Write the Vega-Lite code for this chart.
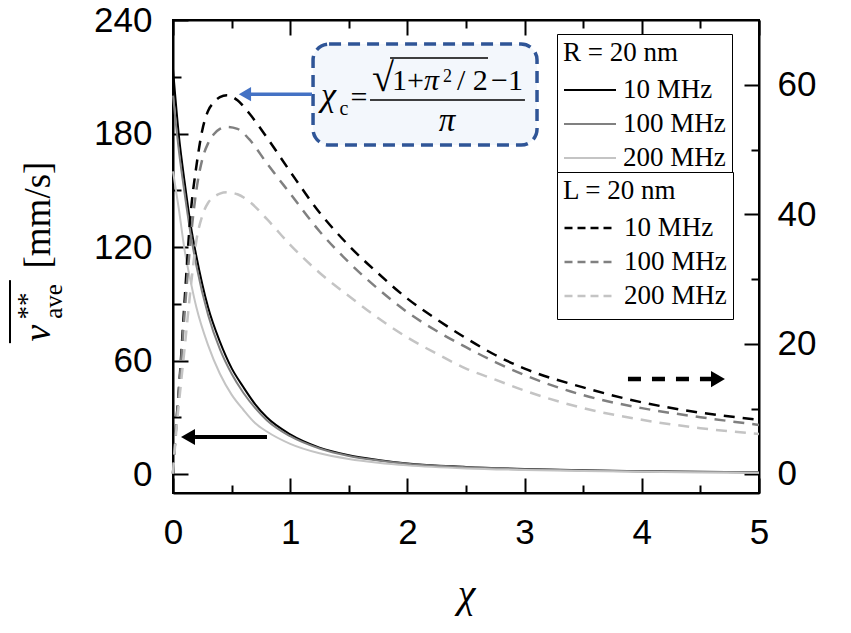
{
  "$schema": "https://vega.github.io/schema/vega-lite/v6.json",
  "width": 586,
  "height": 473,
  "autosize": {"type": "none"},
  "padding": {"left": 173, "top": 20, "right": 92, "bottom": 140},
  "background": "white",
  "datasets": {
    "solid": [
      {"freq": "10 MHz", "chi": 0, "v": 214}, {"freq": "10 MHz", "chi": 0.05, "v": 179}, {"freq": "10 MHz", "chi": 0.1, "v": 154},
      {"freq": "10 MHz", "chi": 0.15, "v": 132}, {"freq": "10 MHz", "chi": 0.2, "v": 115}, {"freq": "10 MHz", "chi": 0.3, "v": 88},
      {"freq": "10 MHz", "chi": 0.4, "v": 70}, {"freq": "10 MHz", "chi": 0.5, "v": 56}, {"freq": "10 MHz", "chi": 0.6, "v": 46},
      {"freq": "10 MHz", "chi": 0.7, "v": 37}, {"freq": "10 MHz", "chi": 0.8, "v": 30}, {"freq": "10 MHz", "chi": 1.0, "v": 21},
      {"freq": "10 MHz", "chi": 1.25, "v": 14}, {"freq": "10 MHz", "chi": 1.5, "v": 10}, {"freq": "10 MHz", "chi": 1.75, "v": 7.5},
      {"freq": "10 MHz", "chi": 2.0, "v": 5.6}, {"freq": "10 MHz", "chi": 2.5, "v": 3.8}, {"freq": "10 MHz", "chi": 3.0, "v": 2.7},
      {"freq": "10 MHz", "chi": 3.5, "v": 2.0}, {"freq": "10 MHz", "chi": 4.0, "v": 1.5}, {"freq": "10 MHz", "chi": 4.5, "v": 1.2},
      {"freq": "10 MHz", "chi": 5.0, "v": 1.0},
      {"freq": "100 MHz", "chi": 0, "v": 200}, {"freq": "100 MHz", "chi": 0.05, "v": 171}, {"freq": "100 MHz", "chi": 0.1, "v": 148},
      {"freq": "100 MHz", "chi": 0.15, "v": 127}, {"freq": "100 MHz", "chi": 0.2, "v": 110}, {"freq": "100 MHz", "chi": 0.3, "v": 84},
      {"freq": "100 MHz", "chi": 0.4, "v": 66}, {"freq": "100 MHz", "chi": 0.5, "v": 53}, {"freq": "100 MHz", "chi": 0.6, "v": 43},
      {"freq": "100 MHz", "chi": 0.7, "v": 35}, {"freq": "100 MHz", "chi": 0.8, "v": 28.5}, {"freq": "100 MHz", "chi": 1.0, "v": 20},
      {"freq": "100 MHz", "chi": 1.25, "v": 13.5}, {"freq": "100 MHz", "chi": 1.5, "v": 9.6}, {"freq": "100 MHz", "chi": 1.75, "v": 7.2},
      {"freq": "100 MHz", "chi": 2.0, "v": 5.4}, {"freq": "100 MHz", "chi": 2.5, "v": 3.6}, {"freq": "100 MHz", "chi": 3.0, "v": 2.6},
      {"freq": "100 MHz", "chi": 3.5, "v": 1.9}, {"freq": "100 MHz", "chi": 4.0, "v": 1.4}, {"freq": "100 MHz", "chi": 4.5, "v": 1.1},
      {"freq": "100 MHz", "chi": 5.0, "v": 0.9},
      {"freq": "200 MHz", "chi": 0, "v": 160}, {"freq": "200 MHz", "chi": 0.05, "v": 140}, {"freq": "200 MHz", "chi": 0.1, "v": 118},
      {"freq": "200 MHz", "chi": 0.15, "v": 102}, {"freq": "200 MHz", "chi": 0.2, "v": 88}, {"freq": "200 MHz", "chi": 0.3, "v": 68},
      {"freq": "200 MHz", "chi": 0.4, "v": 53}, {"freq": "200 MHz", "chi": 0.5, "v": 42}, {"freq": "200 MHz", "chi": 0.6, "v": 34},
      {"freq": "200 MHz", "chi": 0.7, "v": 27}, {"freq": "200 MHz", "chi": 0.8, "v": 22.5}, {"freq": "200 MHz", "chi": 1.0, "v": 16},
      {"freq": "200 MHz", "chi": 1.25, "v": 11}, {"freq": "200 MHz", "chi": 1.5, "v": 8}, {"freq": "200 MHz", "chi": 1.75, "v": 6},
      {"freq": "200 MHz", "chi": 2.0, "v": 4.6}, {"freq": "200 MHz", "chi": 2.5, "v": 3.0}, {"freq": "200 MHz", "chi": 3.0, "v": 2.2},
      {"freq": "200 MHz", "chi": 3.5, "v": 1.6}, {"freq": "200 MHz", "chi": 4.0, "v": 1.2}, {"freq": "200 MHz", "chi": 4.5, "v": 0.9},
      {"freq": "200 MHz", "chi": 5.0, "v": 0.7}
    ],
    "dashed": [
      {"freq": "10 MHz", "chi": 0, "v": 0}, {"freq": "10 MHz", "chi": 0.03, "v": 8.2}, {"freq": "10 MHz", "chi": 0.06, "v": 15.5},
      {"freq": "10 MHz", "chi": 0.1, "v": 27}, {"freq": "10 MHz", "chi": 0.15, "v": 40}, {"freq": "10 MHz", "chi": 0.2, "v": 47.5},
      {"freq": "10 MHz", "chi": 0.25, "v": 53}, {"freq": "10 MHz", "chi": 0.3, "v": 56}, {"freq": "10 MHz", "chi": 0.35, "v": 57.3},
      {"freq": "10 MHz", "chi": 0.4, "v": 58.1}, {"freq": "10 MHz", "chi": 0.46, "v": 58.4}, {"freq": "10 MHz", "chi": 0.55, "v": 57.6},
      {"freq": "10 MHz", "chi": 0.65, "v": 55.6}, {"freq": "10 MHz", "chi": 0.8, "v": 51.9}, {"freq": "10 MHz", "chi": 1.0, "v": 46.6},
      {"freq": "10 MHz", "chi": 1.25, "v": 40.3}, {"freq": "10 MHz", "chi": 1.5, "v": 35.2}, {"freq": "10 MHz", "chi": 1.75, "v": 30.9},
      {"freq": "10 MHz", "chi": 2.0, "v": 27.0}, {"freq": "10 MHz", "chi": 2.25, "v": 23.8}, {"freq": "10 MHz", "chi": 2.5, "v": 20.9},
      {"freq": "10 MHz", "chi": 2.75, "v": 18.3}, {"freq": "10 MHz", "chi": 3.0, "v": 16.2}, {"freq": "10 MHz", "chi": 3.5, "v": 13.3},
      {"freq": "10 MHz", "chi": 4.0, "v": 11.0}, {"freq": "10 MHz", "chi": 4.5, "v": 9.4}, {"freq": "10 MHz", "chi": 5.0, "v": 8.3},
      {"freq": "100 MHz", "chi": 0, "v": 0}, {"freq": "100 MHz", "chi": 0.03, "v": 8.0}, {"freq": "100 MHz", "chi": 0.06, "v": 15.0},
      {"freq": "100 MHz", "chi": 0.1, "v": 25}, {"freq": "100 MHz", "chi": 0.15, "v": 36}, {"freq": "100 MHz", "chi": 0.2, "v": 43.8},
      {"freq": "100 MHz", "chi": 0.25, "v": 48.5}, {"freq": "100 MHz", "chi": 0.3, "v": 51}, {"freq": "100 MHz", "chi": 0.35, "v": 52.4},
      {"freq": "100 MHz", "chi": 0.4, "v": 53.2}, {"freq": "100 MHz", "chi": 0.46, "v": 53.5}, {"freq": "100 MHz", "chi": 0.55, "v": 53.2},
      {"freq": "100 MHz", "chi": 0.65, "v": 51.6}, {"freq": "100 MHz", "chi": 0.8, "v": 47.9}, {"freq": "100 MHz", "chi": 1.0, "v": 43.2},
      {"freq": "100 MHz", "chi": 1.25, "v": 37.4}, {"freq": "100 MHz", "chi": 1.5, "v": 32.6}, {"freq": "100 MHz", "chi": 1.75, "v": 28.5},
      {"freq": "100 MHz", "chi": 2.0, "v": 24.9}, {"freq": "100 MHz", "chi": 2.25, "v": 22.0}, {"freq": "100 MHz", "chi": 2.5, "v": 19.5},
      {"freq": "100 MHz", "chi": 2.75, "v": 17.2}, {"freq": "100 MHz", "chi": 3.0, "v": 15.2}, {"freq": "100 MHz", "chi": 3.5, "v": 12.1},
      {"freq": "100 MHz", "chi": 4.0, "v": 10.1}, {"freq": "100 MHz", "chi": 4.5, "v": 8.7}, {"freq": "100 MHz", "chi": 5.0, "v": 7.5},
      {"freq": "200 MHz", "chi": 0, "v": 0}, {"freq": "200 MHz", "chi": 0.03, "v": 7}, {"freq": "200 MHz", "chi": 0.06, "v": 12.5},
      {"freq": "200 MHz", "chi": 0.1, "v": 19.5}, {"freq": "200 MHz", "chi": 0.15, "v": 28.5}, {"freq": "200 MHz", "chi": 0.2, "v": 36},
      {"freq": "200 MHz", "chi": 0.25, "v": 39.8}, {"freq": "200 MHz", "chi": 0.3, "v": 41.8}, {"freq": "200 MHz", "chi": 0.35, "v": 42.7},
      {"freq": "200 MHz", "chi": 0.4, "v": 43.2}, {"freq": "200 MHz", "chi": 0.46, "v": 43.4}, {"freq": "200 MHz", "chi": 0.55, "v": 43.1},
      {"freq": "200 MHz", "chi": 0.65, "v": 42.0}, {"freq": "200 MHz", "chi": 0.8, "v": 39.3}, {"freq": "200 MHz", "chi": 1.0, "v": 35.3},
      {"freq": "200 MHz", "chi": 1.25, "v": 31.0}, {"freq": "200 MHz", "chi": 1.5, "v": 27.4}, {"freq": "200 MHz", "chi": 1.75, "v": 24.0},
      {"freq": "200 MHz", "chi": 2.0, "v": 21.0}, {"freq": "200 MHz", "chi": 2.25, "v": 18.5}, {"freq": "200 MHz", "chi": 2.5, "v": 16.2},
      {"freq": "200 MHz", "chi": 2.75, "v": 14.5}, {"freq": "200 MHz", "chi": 3.0, "v": 12.8}, {"freq": "200 MHz", "chi": 3.5, "v": 10.1},
      {"freq": "200 MHz", "chi": 4.0, "v": 8.3}, {"freq": "200 MHz", "chi": 4.5, "v": 7.0}, {"freq": "200 MHz", "chi": 5.0, "v": 6.1}
    ]
  },
  "layer": [
    {
      "layer": [
        {
          "data": {"name": "solid"},
          "mark": {"type": "line", "interpolate": "monotone", "strokeWidth": 2},
          "encoding": {
            "x": {
              "field": "chi",
              "type": "quantitative",
              "scale": {"domain": [0, 5], "nice": false, "zero": false},
              "axis": {
                "orient": "bottom",
                "values": [0, 0.5, 1, 1.5, 2, 2.5, 3, 3.5, 4, 4.5, 5],
                "labelExpr": "datum.value % 1 === 0 ? format(datum.value, 'd') : ''",
                "tickSize": {"condition": {"test": "datum.value % 1 === 0", "value": -15}, "value": -8},
                "labelPadding": 37,
                "labelFlush": false,
                "labelOverlap": false,
                "title": "χ",
                "titleFont": "Liberation Serif",
                "titleFontStyle": "italic",
                "titleFontWeight": "normal",
                "titleFontSize": 40,
                "titleColor": "black",
                "titleBaseline": "alphabetic",
                "titleY": 113
              }
            },
            "y": {
              "field": "v",
              "type": "quantitative",
              "scale": {"domain": [-10, 240], "nice": false, "zero": false},
              "axis": {
                "orient": "left",
                "values": [0, 30, 60, 90, 120, 150, 180, 210, 240],
                "labelExpr": "datum.value % 60 === 0 ? datum.label : ''",
                "tickSize": {"condition": {"test": "datum.value % 60 === 0", "value": -15}, "value": -8},
                "labelPadding": 36,
                "labelOverlap": false,
                "title": null
              }
            },
            "color": {
              "field": "freq",
              "type": "nominal",
              "scale": {"range": ["#000000", "#808080", "#c4c4c4"]},
              "legend": {"title": "R = 20 nm", "orient": "none", "legendX": 384, "legendY": 14, "symbolStrokeWidth": 2}
            }
          }
        },
        {
          "data": {"values": [{}]},
          "mark": {"type": "rect", "fill": "#F3F7FC", "stroke": "#2F5597", "strokeWidth": 3.5, "strokeDash": [12, 7], "cornerRadius": 16},
          "encoding": {"x": {"datum": 1.195}, "x2": {"datum": 3.106}, "y": {"datum": 227.3}, "y2": {"datum": 173.9}}
        },
        {
          "data": {"values": [{}]},
          "mark": {"type": "rule", "color": "#4472C4", "strokeWidth": 3.5},
          "encoding": {"x": {"datum": 1.186}, "x2": {"datum": 0.64}, "y": {"datum": 200.8}}
        },
        {
          "data": {"values": [{}]},
          "mark": {"type": "point", "shape": "triangle-left", "filled": true, "size": 200, "color": "#4472C4", "opacity": 1},
          "encoding": {"x": {"datum": 0.614}, "y": {"datum": 200.8}}
        },
        {
          "data": {"values": [{}]},
          "mark": {"type": "rule", "color": "black", "strokeWidth": 4},
          "encoding": {"x": {"datum": 0.188}, "x2": {"datum": 0.802}, "y": {"datum": 19.6}}
        },
        {
          "data": {"values": [{}]},
          "mark": {"type": "point", "shape": "triangle-left", "filled": true, "size": 260, "color": "black", "opacity": 1},
          "encoding": {"x": {"datum": 0.128}, "y": {"datum": 19.6}}
        },
        {
          "data": {"values": [{}]},
          "mark": {"type": "rule", "color": "black", "strokeWidth": 4.5, "strokeDash": [13, 11]},
          "encoding": {"x": {"datum": 3.882}, "x2": {"datum": 4.599}, "y": {"datum": 50.2}}
        },
        {
          "data": {"values": [{}]},
          "mark": {"type": "point", "shape": "triangle-right", "filled": true, "size": 260, "color": "black", "opacity": 1},
          "encoding": {"x": {"datum": 4.65}, "y": {"datum": 50.2}}
        },
        {
          "data": {"values": [{}]},
          "mark": {"type": "text", "text": "χ", "font": "Liberation Serif", "fontStyle": "italic", "fontSize": 34, "align": "left", "baseline": "alphabetic", "color": "black"},
          "encoding": {"x": {"datum": 1.262}, "y": {"datum": 194.5}}
        },
        {
          "data": {"values": [{}]},
          "mark": {"type": "text", "text": "c", "font": "Liberation Serif", "fontSize": 20, "align": "left", "baseline": "alphabetic", "color": "black"},
          "encoding": {"x": {"datum": 1.42}, "y": {"datum": 189.7}}
        },
        {
          "data": {"values": [{}]},
          "mark": {"type": "text", "text": "=", "font": "Liberation Serif", "fontSize": 30, "align": "left", "baseline": "alphabetic", "color": "black"},
          "encoding": {"x": {"datum": 1.515}, "y": {"datum": 194.0}}
        },
        {
          "data": {"values": [{}]},
          "mark": {"type": "rule", "color": "black", "strokeWidth": 1.5},
          "encoding": {"x": {"datum": 1.681}, "x2": {"datum": 3.003}, "y": {"datum": 197.7}}
        },
        {
          "data": {"values": [{}]},
          "mark": {"type": "text", "text": "√", "font": "Liberation Serif", "fontSize": 40, "align": "left", "baseline": "alphabetic", "color": "black"},
          "encoding": {"x": {"datum": 1.698}, "y": {"datum": 202.4}}
        },
        {
          "data": {"values": [{}]},
          "mark": {"type": "rule", "color": "black", "strokeWidth": 1.5},
          "encoding": {"x": {"datum": 1.852}, "x2": {"datum": 2.688}, "y": {"datum": 219.9}}
        },
        {
          "data": {"values": [{}]},
          "mark": {"type": "text", "text": "1+", "font": "Liberation Serif", "fontSize": 30, "align": "left", "baseline": "alphabetic", "color": "black"},
          "encoding": {"x": {"datum": 1.869}, "y": {"datum": 203.0}}
        },
        {
          "data": {"values": [{}]},
          "mark": {"type": "text", "text": "π", "font": "Liberation Serif", "fontStyle": "italic", "fontSize": 30, "align": "left", "baseline": "alphabetic", "color": "black"},
          "encoding": {"x": {"datum": 2.142}, "y": {"datum": 203.0}}
        },
        {
          "data": {"values": [{}]},
          "mark": {"type": "text", "text": "2", "font": "Liberation Serif", "fontSize": 18, "align": "left", "baseline": "alphabetic", "color": "black"},
          "encoding": {"x": {"datum": 2.304}, "y": {"datum": 207.2}}
        },
        {
          "data": {"values": [{}]},
          "mark": {"type": "text", "text": "/ 2", "font": "Liberation Serif", "fontSize": 30, "align": "left", "baseline": "alphabetic", "color": "black"},
          "encoding": {"x": {"datum": 2.423}, "y": {"datum": 203.0}}
        },
        {
          "data": {"values": [{}]},
          "mark": {"type": "text", "text": "−1", "font": "Liberation Serif", "fontSize": 30, "align": "left", "baseline": "alphabetic", "color": "black"},
          "encoding": {"x": {"datum": 2.713}, "y": {"datum": 203.0}}
        },
        {
          "data": {"values": [{}]},
          "mark": {"type": "text", "text": "π", "font": "Liberation Serif", "fontStyle": "italic", "fontSize": 33, "align": "center", "baseline": "alphabetic", "color": "black"},
          "encoding": {"x": {"datum": 2.338}, "y": {"datum": 181.3}}
        },
        {
          "data": {"values": [{}]},
          "mark": {"type": "text", "text": "v", "angle": 270, "font": "Liberation Serif", "fontStyle": "italic", "fontSize": 38, "align": "center", "baseline": "alphabetic", "color": "black"},
          "encoding": {"x": {"datum": -1.0495}, "y": {"datum": 74.5}}
        },
        {
          "data": {"values": [{}]},
          "mark": {"type": "text", "text": "ave", "angle": 270, "font": "Liberation Serif", "fontSize": 25, "align": "center", "baseline": "alphabetic", "color": "black"},
          "encoding": {"x": {"datum": -0.947}, "y": {"datum": 91.2}}
        },
        {
          "data": {"values": [{}]},
          "mark": {"type": "text", "text": "**", "angle": 270, "font": "Liberation Serif", "fontSize": 27, "align": "center", "baseline": "alphabetic", "color": "black"},
          "encoding": {"x": {"datum": -1.169}, "y": {"datum": 88.8}}
        },
        {
          "data": {"values": [{}]},
          "mark": {"type": "text", "text": "[mm/s]", "angle": 270, "font": "Liberation Serif", "fontSize": 37, "align": "center", "baseline": "alphabetic", "color": "black"},
          "encoding": {"x": {"datum": -1.0495}, "y": {"datum": 136.9}}
        },
        {
          "data": {"values": [{}]},
          "mark": {"type": "rule", "color": "black", "strokeWidth": 2},
          "encoding": {"x": {"datum": -1.391}, "y": {"datum": 102.5}, "y2": {"datum": 69.2}}
        }
      ]
    },
    {
      "data": {"name": "dashed"},
      "mark": {"type": "line", "interpolate": "monotone", "strokeWidth": 2.5, "strokeDash": [11, 8]},
      "encoding": {
        "x": {
          "field": "chi",
          "type": "quantitative",
          "scale": {"domain": [0, 5], "nice": false, "zero": false},
          "axis": {
            "orient": "top",
            "values": [0, 0.5, 1, 1.5, 2, 2.5, 3, 3.5, 4, 4.5, 5],
            "labels": false,
            "title": null,
            "tickSize": {"condition": {"test": "datum.value % 1 === 0", "value": -15}, "value": -8}
          }
        },
        "y": {
          "field": "v",
          "type": "quantitative",
          "scale": {"domain": [-3, 70], "nice": false, "zero": false},
          "axis": {
            "orient": "right",
            "values": [0, 10, 20, 30, 40, 50, 60],
            "labelExpr": "datum.value % 20 === 0 ? datum.label : ''",
            "tickSize": {"condition": {"test": "datum.value % 20 === 0", "value": -15}, "value": -8},
            "labelPadding": 33,
            "labelOverlap": false,
            "title": null
          }
        },
        "stroke": {
          "field": "freq",
          "type": "nominal",
          "scale": {"range": ["#000000", "#808080", "#c4c4c4"]},
          "legend": {"title": "L = 20 nm", "orient": "none", "legendX": 384, "legendY": 152, "symbolDash": [8, 5], "symbolStrokeWidth": 2.5}
        }
      }
    }
  ],
  "resolve": {"scale": {"y": "independent"}, "axis": {"x": "independent", "y": "independent"}},
  "config": {
    "font": "Liberation Serif",
    "text": {"font": "Liberation Serif"},
    "view": {"stroke": "black", "strokeWidth": 2},
    "axis": {
      "grid": false,
      "domainColor": "black",
      "domainWidth": 2,
      "tickColor": "black",
      "tickWidth": 2,
      "labelFont": "Liberation Sans",
      "labelFontSize": 35,
      "labelColor": "black"
    },
    "legend": {
      "labelFont": "Liberation Serif",
      "labelFontSize": 27,
      "labelColor": "black",
      "titleFont": "Liberation Serif",
      "titleFontSize": 27,
      "titleFontWeight": "normal",
      "titleColor": "black",
      "symbolType": "stroke",
      "symbolSize": 2704,
      "clipHeight": 34,
      "labelOffset": 6,
      "padding": 6,
      "rowPadding": 0,
      "titlePadding": 6,
      "strokeColor": "black",
      "fillColor": "white",
      "labelLimit": 400,
      "titleLimit": 400
    }
  }
}
